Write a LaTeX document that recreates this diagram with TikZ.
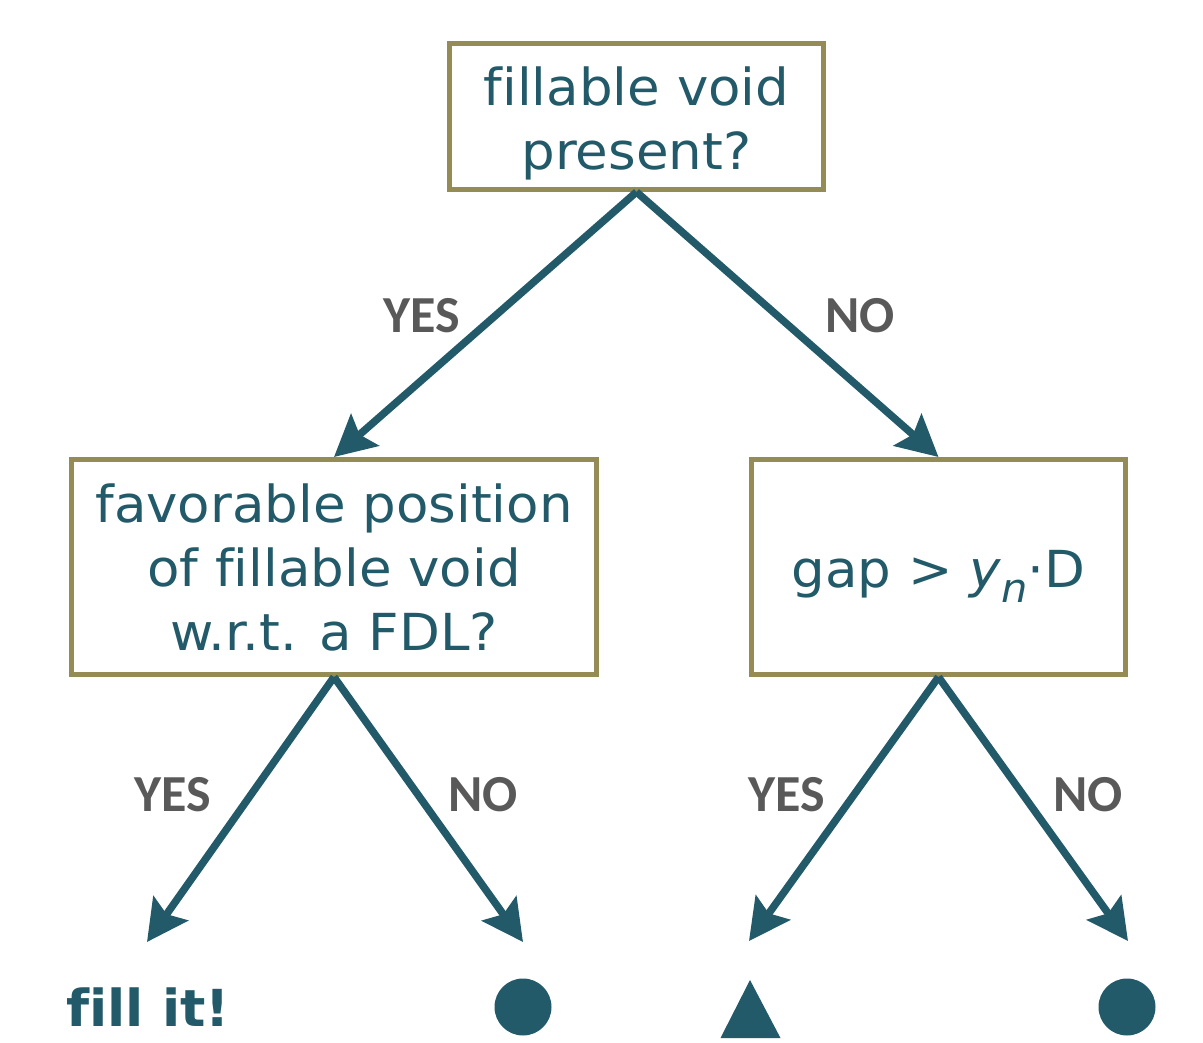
\documentclass[tikz,border=0pt]{standalone}
\usepackage{fontspec}
\setmainfont[Ligatures=NoCommon, FakeStretch=1.04]{DejaVu Sans}
\newfontfamily\lblfont{Carlito}
\usetikzlibrary{arrows.meta}
\definecolor{teal1}{HTML}{225A69}
\definecolor{olive1}{HTML}{958B55}
\definecolor{gray1}{HTML}{595959}
\tikzset{
  qbox/.style={draw=olive1, line width=5pt, fill=white, inner sep=0pt},
  qtext/.style={align=center, inner sep=0pt, text=teal1, font=\fontsize{51}{64}\selectfont},
  conn/.style={draw=teal1, line width=7.5pt,
    -{Stealth[length=41pt,width=42pt,inset=7pt]}},
  lbl/.style={text=gray1, font=\lblfont\bfseries\fontsize{52}{60}\selectfont, inner sep=0pt},
  leafdot/.style={circle, fill=teal1, minimum size=57pt, inner sep=0pt}
}
\begin{document}
\begin{tikzpicture}[x=1pt,y=-1pt]
\useasboundingbox (0,0) rectangle (1203,1043);
\node[qbox, minimum width=374pt, minimum height=146pt] (top) at (636.5,116.5) {};
\node[qbox, minimum width=525pt, minimum height=215pt] (left) at (334,567) {};
\node[qbox, minimum width=374pt, minimum height=215pt] (right) at (938.5,567) {};
\node[qtext] (toptxt) at (636.5,123) {fillable void\\present?};
\node[qtext] (lefttxt) at (334,567) {favorable position\\of fillable void\\w.r.t. a FDL?};
\node[qtext, anchor=base] (righttxt) at (938.5,587) {gap {>} {\itshape y}\raisebox{-15pt}{\fontsize{40}{44}\selectfont\itshape n}·D};
\coordinate (ll) at (147,942);
\coordinate (lr) at (523,942);
\coordinate (rl) at (749,941);
\coordinate (rr) at (1128,941);
\draw[conn] (top.south) -- (left.north);
\draw[conn] (top.south) -- (right.north);
\draw[conn] (left.south) -- (ll);
\draw[conn] (left.south) -- (lr);
\draw[conn] (right.south) -- (rl);
\draw[conn] (right.south) -- (rr);
\node[lbl] (l1) at (422,316) {YES};
\node[lbl] (l2) at (860,316) {NO};
\node[lbl] (l3) at (173,795) {YES};
\node[lbl] (l4) at (483,795) {NO};
\node[lbl] (l5) at (787,795) {YES};
\node[lbl] (l6) at (1088,795) {NO};
\node[text=teal1, font=\bfseries\fontsize{51}{60}\selectfont, inner sep=0pt, anchor=base west] (fill) at (66,1026) {fill it!};
\node[leafdot] (d1) at (523,1007) {};
\node[leafdot] (d2) at (1127,1007) {};
\fill[teal1] (750,980) -- (780.5,1038) -- (720.5,1038) -- cycle;
\end{tikzpicture}
\end{document}
